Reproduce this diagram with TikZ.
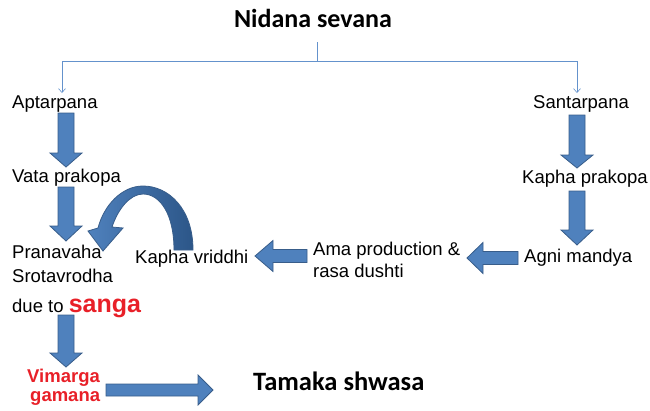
\documentclass[tikz,border=0pt]{standalone}
\usepackage{fontspec}
\setmainfont{Liberation Sans}
\newfontfamily\calib{Carlito}
\usetikzlibrary{arrows.meta}
\definecolor{bfill}{RGB}{79,129,189}
\definecolor{bline}{RGB}{56,93,138}
\definecolor{bdark}{RGB}{44,86,136}
\definecolor{cline}{RGB}{100,146,204}
\definecolor{hred}{RGB}{232,32,40}
\newcommand\vblock[4]{\draw[barrow] ({#1-8},#2) -- ({#1+8},#2) -- ({#1+8},#3) -- ({#1+16},#3) -- (#1,#4) -- ({#1-16},#3) -- ({#1-8},#3) -- cycle;}
\newcommand\hblock[6]{\draw[barrow] (#2,{#1-#5}) -- (#3,{#1-#5}) -- (#3,{#1-#6}) -- (#4,#1) -- (#3,{#1+#6}) -- (#3,{#1+#5}) -- (#2,{#1+#5}) -- cycle;}
\begin{document}
\begin{tikzpicture}[x=1pt,y=-1pt,
  lbl/.style={anchor=base west,inner sep=0pt,font=\fontsize{18.5}{22}\selectfont},
  rlbl/.style={anchor=base west,inner sep=0pt,text=hred,font=\fontsize{18.5}{22}\selectfont\bfseries},
  head/.style={anchor=base west,inner sep=0pt,font=\calib\fontsize{26.5}{30}\selectfont\bfseries},
  barrow/.style={fill=bfill,draw=bline,line width=0.8pt,line join=miter},
  conn/.style={draw=cline,line width=0.7pt},
  ctip/.style={conn,-{Straight Barb[length=4pt,width=7pt,line width=0.6pt]}}]
\useasboundingbox (0,0) rectangle (650,410);
% title
\node[anchor=base,inner sep=0pt,font=\calib\fontsize{26}{30}\selectfont\bfseries] (title) at (313,27) {Nidana sevana};
\coordinate (stem) at (317,42);
\coordinate (split) at (317,61);
\coordinate (ltop) at (62,93);
\coordinate (rtop) at (577,93);
\draw[conn] (stem) -- (split);
\draw[ctip] (split) -| (ltop);
\draw[ctip] (split) -| (rtop);
% left column
\node[lbl] (apt) at (12,108) {Aptarpana};
\node[lbl] (vata) at (12,182) {Vata prakopa};
\node[lbl] (pran) at (12,258) {Pranavaha};
\node[lbl] (srot) at (12,282) {Srotavrodha};
\node[lbl] (due) at (12,312) {due to {\fontsize{25}{28}\selectfont\bfseries\color{hred}sanga}};
\node[rlbl] (vim) at (27,382) {Vimarga};
\node[rlbl] (gam) at (30,401) {gamana};
% right column
\node[lbl] (sant) at (533,108) {Santarpana};
\node[lbl] (kphp) at (522,183) {Kapha prakopa};
\node[lbl] (agni) at (524,262) {Agni mandya};
\node[lbl] (ama) at (313,255) {Ama production \&};
\node[lbl] (rasa) at (313,277) {rasa dushti};
\node[lbl] (kphv) at (135,263) {Kapha vriddhi};
\node[head] (tam) at (253,390) {Tamaka shwasa};
% block arrows
\vblock{66}{113}{153}{167}
\vblock{66}{187}{226}{241}
\vblock{66}{315}{353}{367}
\vblock{577}{115}{155}{168}
\vblock{577}{191}{230}{245}
\hblock{258}{518}{483}{467}{6.5}{15.5}
\hblock{256}{307}{273}{255}{6.5}{15.5}
\hblock{390}{106}{198}{213}{6}{15}
% curved arrow
\draw[left color=bfill,right color=bdark,draw=bline,line width=0.8pt,line join=miter]
  (193,250) .. controls (193,208) and (168,186) .. (143,186)
  .. controls (122,186) and (104,205) .. (98,228)
  -- (88,231) -- (103,251) -- (123,228) -- (112,227)
  .. controls (118,209) and (130,194) .. (143,194)
  .. controls (160,194) and (174,214) .. (174,250) -- cycle;
\end{tikzpicture}
\end{document}
